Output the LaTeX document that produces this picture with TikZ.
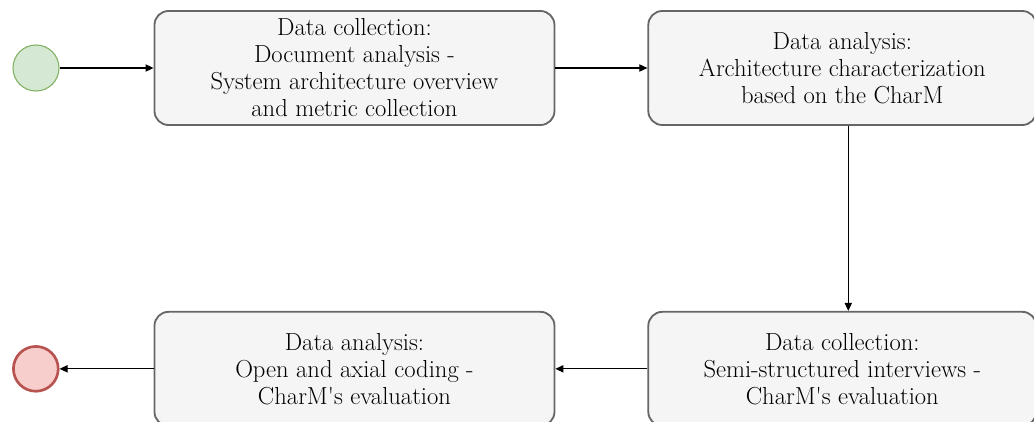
\documentclass[tikz,border=0pt]{standalone}
\usepackage{fontspec}
\usetikzlibrary{arrows.meta,positioning}
\definecolor{stepgray}{HTML}{666666}
\definecolor{stepfill}{HTML}{F5F5F5}
\definecolor{startgreen}{HTML}{82B366}
\definecolor{startfill}{HTML}{D5E8D4}
\definecolor{endred}{HTML}{B85450}
\definecolor{endfill}{HTML}{F8CECC}

\begin{document}
\begin{tikzpicture}[
    node distance=2.3cm,
    box/.style={rectangle, rounded corners=0.35cm, draw=stepgray, fill=stepfill, line width=1.3pt, align=center, minimum width=10cm, minimum height=2.85cm, font=\fontsize{17.5}{19.2}\selectfont},
    startnode/.style={circle, draw=startgreen, fill=startfill, line width=0.8pt, minimum size=1.15cm, inner sep=0pt},
    endnode/.style={circle, draw=endred, fill=endfill, line width=1.9pt, minimum size=1.12cm, inner sep=0pt},
    arrow/.style={-{Triangle[length=2mm,width=1.8mm]}, line width=0.8pt, draw=black}
  ]
    \useasboundingbox (0,0) rectangle (25.85,-10.525);
    \node[startnode] (start) at (0.9,-1.7) {};
    \node[box, right=2.35cm of start] (documents) {Data collection:\\Document analysis -\\System architecture overview\\and metric collection};
    \node[box, minimum width=9.7cm, right=of documents] (charm) {Data analysis:\\Architecture characterization\\based on the CharM};
    \node[box, minimum width=9.7cm, below=4.625cm of charm] (interviews) {Data collection:\\Semi-structured interviews -\\CharM\textquotesingle s evaluation};
    \node[box, left=of interviews] (coding) {Data analysis:\\Open and axial coding -\\CharM\textquotesingle s evaluation};
    \node[endnode, left=2.35cm of coding] (finish) {};
    \draw[arrow] (start) -- (documents);
    \draw[arrow] (documents) -- (charm);
    \draw[arrow] ([xshift=0.15cm]charm.south) -- ([xshift=0.15cm]interviews.north);
    \draw[arrow] (interviews) -- (coding);
    \draw[arrow] (coding) -- (finish);
  \end{tikzpicture}
\end{document}
